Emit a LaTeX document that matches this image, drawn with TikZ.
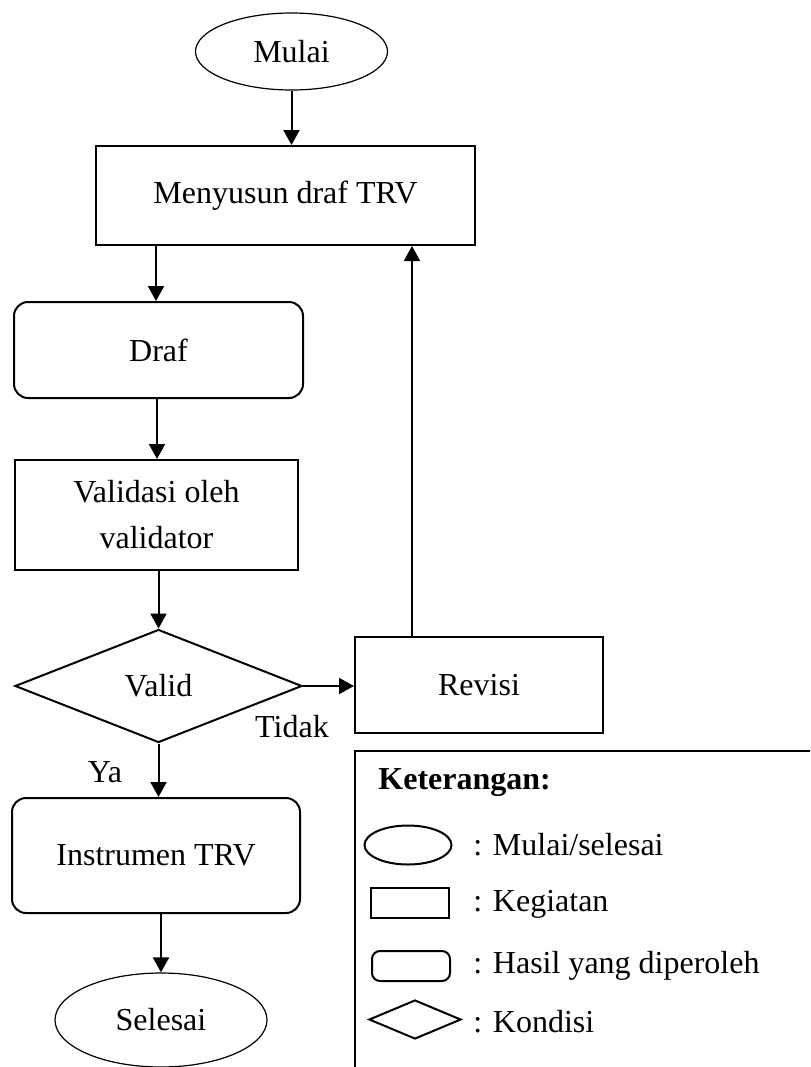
\documentclass[tikz,border=0pt]{standalone}
\usepackage{fontspec}
\setmainfont{Liberation Serif}
\usetikzlibrary{arrows.meta, positioning, shapes.geometric}

\begin{document}
\begin{tikzpicture}[
  x=0.5pt, y=-0.5pt,
  font=\fontsize{16}{23}\selectfont,
  terminal/.style={ellipse, draw, line width=0.6pt, inner sep=0pt},
  process/.style={rectangle, draw, line width=1pt, align=center, inner sep=0pt},
  result/.style={rectangle, rounded corners=7pt, draw, line width=1pt, align=center, inner sep=0pt},
  decision/.style={diamond, draw, line width=1pt, inner sep=0pt},
  arrow/.style={-{Triangle[length=7.5pt, width=8pt]}, line width=1pt},
  legtext/.style={anchor=west, inner sep=0pt}
]
\useasboundingbox (0,0) rectangle (810,1067);
\clip (0,0) rectangle (810,1067);

% alur utama
\node[terminal, minimum width=96pt, minimum height=38.5pt] (mulai) at (291.5,51.5) {Mulai};
\node[process, minimum width=189.5pt, minimum height=49.5pt] (menyusun) at (285.5,195.5) {Menyusun draf TRV};
\node[result, minimum width=144.5pt, minimum height=48pt] (draf) at (158.5,350) {Draf};
\node[process, minimum width=141.5pt, minimum height=55pt] (validasi) at (156.5,515) {Validasi oleh\\validator};
\node[decision, minimum width=143.5pt, minimum height=56.5pt] (valid) at (158.5,686) {Valid};
\node[process, minimum width=124pt, minimum height=48pt] (revisi) at (479,685) {Revisi};
\node[result, minimum width=144pt, minimum height=57.5pt] (instrumen) at (156,855.5) {Instrumen TRV};
\node[terminal, minimum width=106pt, minimum height=47pt] (selesai) at (161,1020) {Selesai};

\node (tidak) at (292,727) {Tidak};
\node (ya) at (105,772) {Ya};

\draw[arrow] (mulai.south) -- (mulai.south |- menyusun.north);
\draw[arrow] (menyusun.south -| 156,0) -- (draf.north -| 156,0);
\draw[arrow] (draf.south -| 157,0) -- (validasi.north -| 157,0);
\draw[arrow] (validasi.south -| valid.north) -- (valid.north);
\draw[arrow] (valid.east) -- (valid.east -| revisi.west);
\draw[arrow] (valid.south) -- (valid.south |- instrumen.north);
\draw[arrow] (instrumen.south -| selesai.north) -- (selesai.north);
\draw[arrow] (revisi.north -| 412,0) -- (menyusun.south -| 412,0);

% keterangan
\draw[line width=1pt] (355,1100) |- (850,751);
\node[anchor=west, inner sep=0pt, font=\fontsize{16}{23}\selectfont\bfseries] (keterangan) at (378,783) {Keterangan:};

\node[terminal, line width=1pt, minimum width=43.5pt, minimum height=19.5pt] (legmulai) at (408,845) {};
\node[process, minimum width=39pt, minimum height=15pt] (legproses) at (410,903) {};
\node[result, rounded corners=4pt, minimum width=39pt, minimum height=15pt] (leghasil) at (411,966) {};
\node[decision, minimum width=46pt, minimum height=19.5pt] (legkondisi) at (415,1019.5) {};

\node[legtext] (tmulai) at (473,845) {: Mulai/selesai};
\node[legtext] (tproses) at (473,904) {: Kegiatan};
\node[legtext] (thasil) at (473,966) {: Hasil yang diperoleh};
\node[legtext] (tkondisi) at (473,1022) {: Kondisi};
\end{tikzpicture}
\end{document}
